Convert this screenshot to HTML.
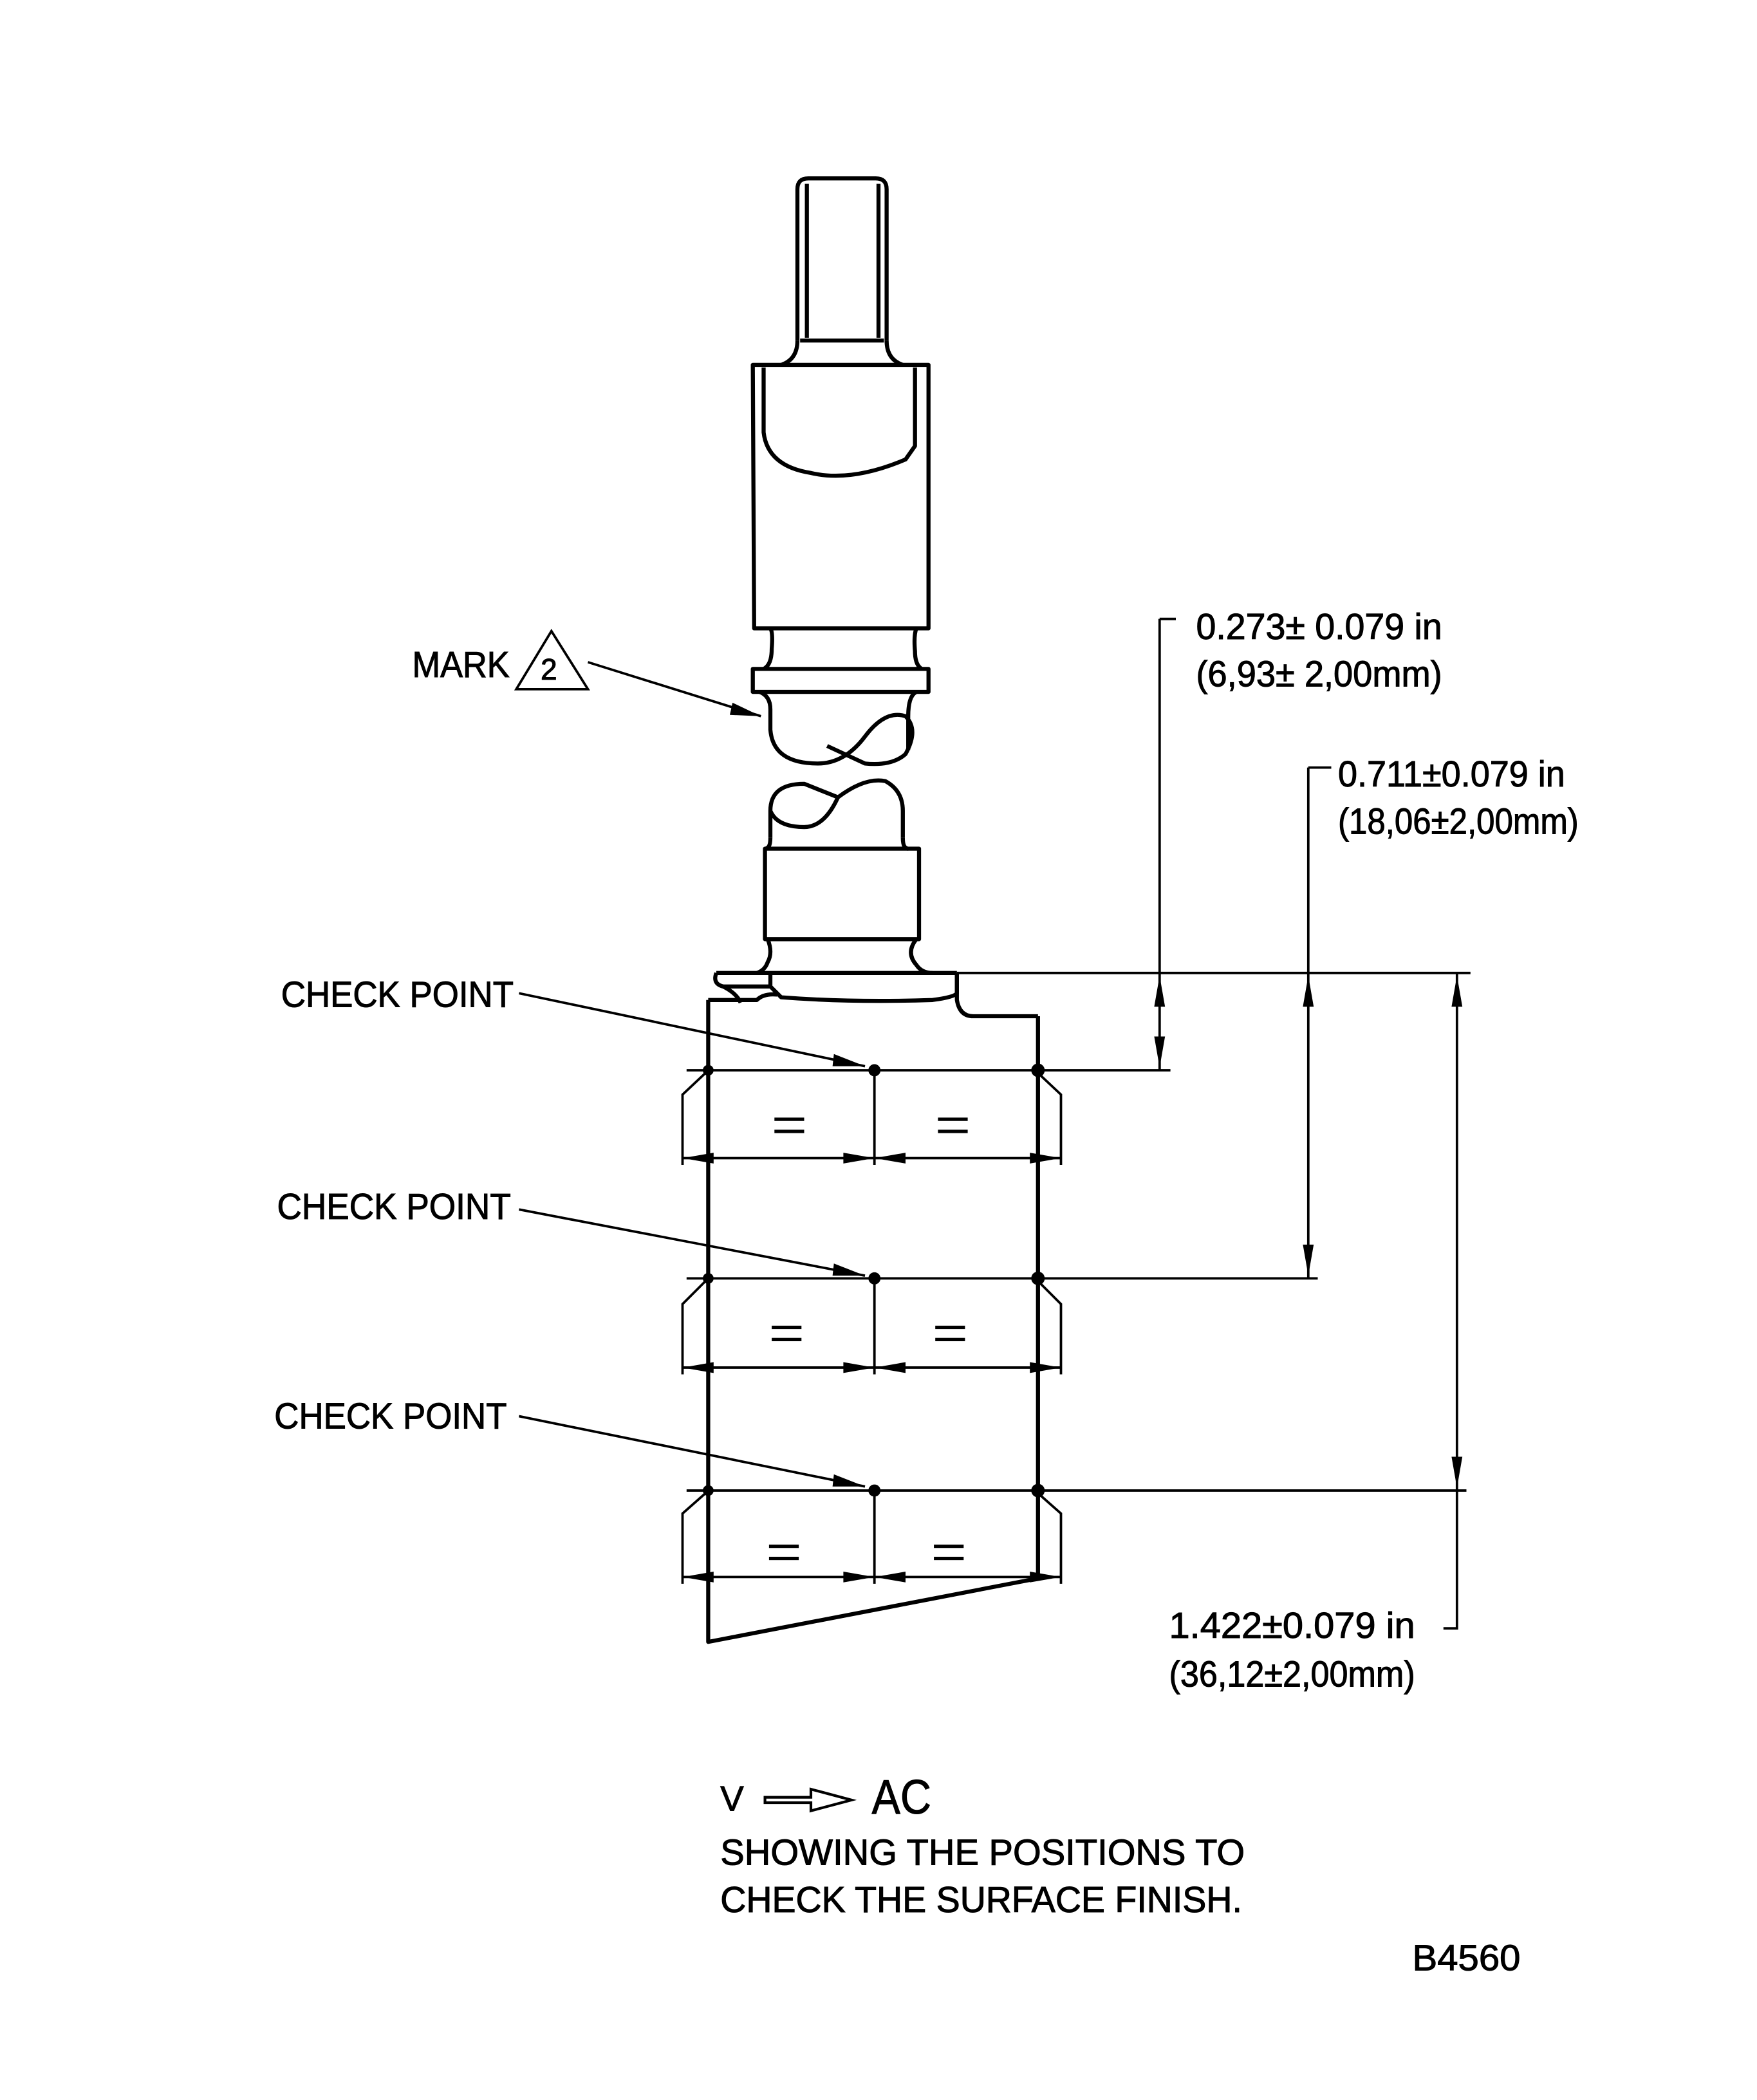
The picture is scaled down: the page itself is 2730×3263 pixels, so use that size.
<!DOCTYPE html>
<html><head><meta charset="utf-8"><style>
html,body{margin:0;padding:0;background:#fff}
svg{display:block}
text{font-family:"Liberation Sans",sans-serif;fill:#000;stroke:#000;stroke-width:0.5}
</style></head><body>
<svg width="2730" height="3263" viewBox="0 0 1300 1554" preserveAspectRatio="none" xmlns="http://www.w3.org/2000/svg">
<g fill="none" stroke="#000" stroke-width="3" stroke-linejoin="round">
<path d="M590 252 V140 Q590 132 598 132 H648 Q656 132 656 140 V252"/>
<path d="M597 136 V250 M650 136 V250 M592 252 H654"/>
<path d="M590 252 Q590 266 578 270 M656 252 Q656 266 668 270"/>
<path d="M557 270 H687 V465 H558 Z"/>
<path d="M565 272 V320 Q568 345 600 350 Q630 357 670 340 L677 330 V272"/>
<path d="M570 465 Q572 468 571 480 Q571 492 565 495 M678 465 Q676 470 677 482 Q677 492 682 495"/>
<path d="M557 495 H687 V512 H557 Z"/>
<path d="M562 512 Q570 515 570 525 V540 Q572 565 605 565 Q625 565 640 545 Q655 525 670 530 Q680 540 670 558 Q660 567 640 565 L612 552 M678 512 Q672 515 672 530 V555"/>
<path d="M570 620 V600 Q570 580 595 580 L620 590 Q640 575 655 578 Q668 585 668 600 V620 M570 600 Q575 612 595 612 Q610 612 620 590"/>
<path d="M570 620 Q570 628 566 628 M668 620 Q668 628 672 628"/>
<path d="M566 628 H680 V695 H566 Z"/>
<path d="M568 695 Q572 705 568 712 Q566 718 560 720 M678 695 Q670 705 678 714 Q682 720 690 720"/>
<path d="M530 720 H708 M530 720 Q527 728 535 730 Q545 735 548 742 M570 720 V730 L578 738 Q630 742 690 740 Q706 738 708 735 V720"/>
<path d="M535 730 H570"/>
<path d="M708 720 V740 Q710 752 720 752 H768"/>
<path d="M524 740 H560 Q565 735 575 736"/>
<path d="M524 740 V1215 L768 1168 V752"/>
</g>
<g fill="none" stroke="#000" stroke-width="1.8">
<path d="M508 792 H768 M508 946 H768 M508 1103 H768"/>
<path d="M505 857 H785 M505 1012 H785 M505 1167 H785"/>
<path d="M647 792 V862 M647 946 V1017 M647 1103 V1172"/>
<path d="M505 862 V810 L522 794 M785 862 V810 L768 794 M505 1017 V965 L522 948 M785 1017 V965 L768 948 M505 1172 V1120 L522 1105 M785 1172 V1120 L768 1105"/>
<path d="M384 735 L640 789 M384 895 L640 944 M384 1048 L640 1100 M435 490 L563 530"/>
<path d="M382 510 L408 467 L435 510 Z"/>
<path d="M708 720 H1088 M768 792 H866 M858 458 V792 M858 458 H870"/>
<path d="M968 568 V946 M968 568 H985 M768 946 H975"/>
<path d="M1078 720 V1205 H1068 M768 1103 H1085"/>
</g>
<g fill="#000">
<circle cx="524" cy="792" r="4"/><circle cx="647" cy="792" r="4.5"/><circle cx="768" cy="792" r="5"/>
<circle cx="524" cy="946" r="4"/><circle cx="647" cy="946" r="4.5"/><circle cx="768" cy="946" r="5"/>
<circle cx="524" cy="1103" r="4"/><circle cx="647" cy="1103" r="4.5"/><circle cx="768" cy="1103" r="5"/>
<path d="M640 789 L617 780 L616 789 Z M640 944 L617 935 L616 944 Z M640 1100 L617 1091 L616 1100 Z M563 530 L542 520 L540 529 Z"/>
<path d="M505 857 L528 853 L528 861 Z M647 857 L624 853 L624 861 Z M647 857 L670 853 L670 861 Z M785 857 L762 853 L762 861 Z"/>
<path d="M505 1012 L528 1008 L528 1016 Z M647 1012 L624 1008 L624 1016 Z M647 1012 L670 1008 L670 1016 Z M785 1012 L762 1008 L762 1016 Z"/>
<path d="M505 1167 L528 1163 L528 1171 Z M647 1167 L624 1163 L624 1171 Z M647 1167 L670 1163 L670 1171 Z M785 1167 L762 1163 L762 1171 Z"/>
<path d="M858 722 L854 745 L862 745 Z M858 790 L854 767 L862 767 Z"/>
<path d="M968 722 L964 745 L972 745 Z M968 944 L964 921 L972 921 Z"/>
<path d="M1078 722 L1074 745 L1082 745 Z M1078 1101 L1074 1078 L1082 1078 Z"/>
<rect x="573" y="827" width="22" height="2.5"/><rect x="573" y="836" width="22" height="2.5"/>
<rect x="694" y="827" width="22" height="2.5"/><rect x="694" y="836" width="22" height="2.5"/>
<rect x="571" y="981" width="22" height="2.5"/><rect x="571" y="990" width="22" height="2.5"/>
<rect x="692" y="981" width="22" height="2.5"/><rect x="692" y="990" width="22" height="2.5"/>
<rect x="569" y="1143" width="22" height="2.5"/><rect x="569" y="1152" width="22" height="2.5"/>
<rect x="691" y="1143" width="22" height="2.5"/><rect x="691" y="1152" width="22" height="2.5"/>
</g>
<g font-size="27">
<text x="305" y="501" textLength="72" lengthAdjust="spacingAndGlyphs">MARK</text>
<text x="400" y="503" font-size="22">2</text>
<text x="208" y="745" textLength="172" lengthAdjust="spacingAndGlyphs">CHECK POINT</text>
<text x="205" y="902" textLength="173" lengthAdjust="spacingAndGlyphs">CHECK POINT</text>
<text x="203" y="1057" textLength="172" lengthAdjust="spacingAndGlyphs">CHECK POINT</text>
<text x="885" y="473" textLength="182" lengthAdjust="spacingAndGlyphs">0.273± 0.079 in</text>
<text x="885" y="508" textLength="182" lengthAdjust="spacingAndGlyphs">(6,93± 2,00mm)</text>
<text x="990" y="582" textLength="168" lengthAdjust="spacingAndGlyphs">0.711±0.079 in</text>
<text x="990" y="617" textLength="178" lengthAdjust="spacingAndGlyphs">(18,06±2,00mm)</text>
<text x="865" y="1212" textLength="182" lengthAdjust="spacingAndGlyphs">1.422±0.079 in</text>
<text x="865" y="1248" textLength="182" lengthAdjust="spacingAndGlyphs">(36,12±2,00mm)</text>
<text x="533" y="1340" font-size="26">V</text>
<text x="645" y="1342" font-size="36" textLength="44" lengthAdjust="spacingAndGlyphs">AC</text>
<text x="533" y="1380" textLength="388" lengthAdjust="spacingAndGlyphs">SHOWING THE POSITIONS TO</text>
<text x="533" y="1415" textLength="386" lengthAdjust="spacingAndGlyphs">CHECK THE SURFACE FINISH.</text>
<text x="1045" y="1458" textLength="80" lengthAdjust="spacingAndGlyphs">B4560</text>
</g>
<path d="M566 1330 H600 V1324 L630 1332 L600 1340 V1334 H566 Z" fill="none" stroke="#000" stroke-width="2"/>
</svg>
</body></html>
